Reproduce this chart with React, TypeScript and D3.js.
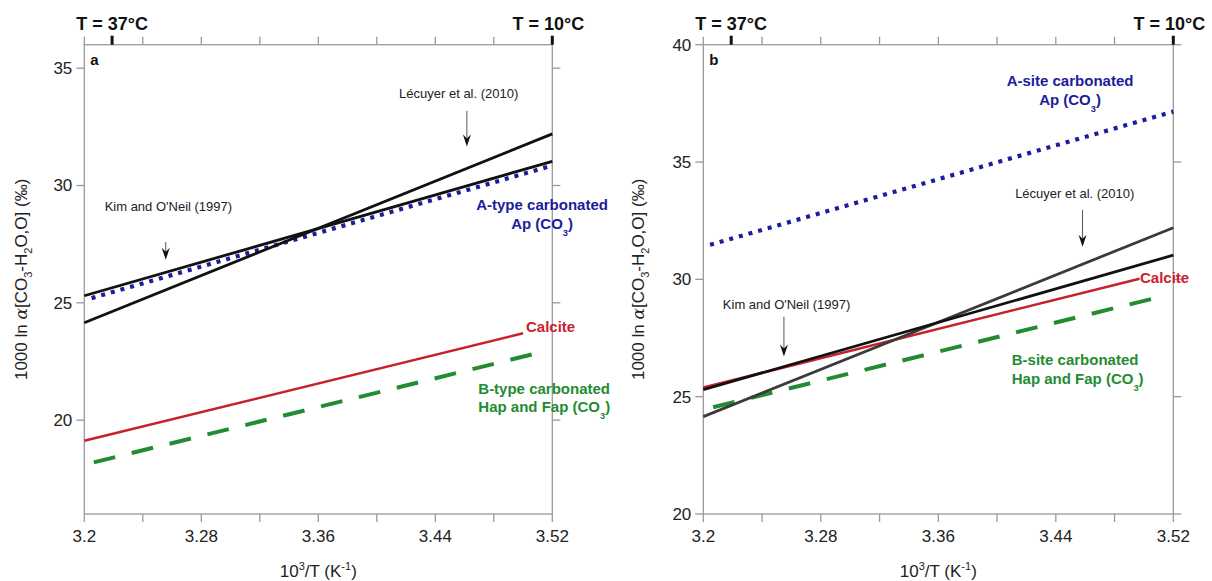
import React from "react";
import * as d3 from "d3";

// ---------- data ----------
const xMajorTicks = [3.2, 3.28, 3.36, 3.44, 3.52];
const xMinorTicks = [3.2, 3.24, 3.28, 3.32, 3.36, 3.4, 3.44, 3.48, 3.52];
const tempLabels = ["T = 37°C", "T = 10°C"];
const tempPositions = [3.219, 3.52];

const yTicksA = [20, 25, 30, 35];
const yDomainA = [16, 36];
const yTicksB = [20, 25, 30, 35, 40];
const yDomainB = [20, 40];

// lines [x = 10^3/T, y = 1000 ln alpha]
const lecuyer: [number, number][] = [[3.2, 24.15], [3.52, 32.2]];
const kimOneil: [number, number][] = [[3.2, 25.3], [3.52, 31.03]];
const aTypeA: [number, number][] = [[3.205, 25.2], [3.52, 30.85]];
const calciteA: [number, number][] = [[3.2, 19.12], [3.5, 23.7]];
const bTypeA: [number, number][] = [[3.2065, 18.2], [3.514, 22.92]];
const aSiteB: [number, number][] = [[3.2046, 31.47], [3.52, 37.15]];
const calciteB: [number, number][] = [[3.2, 25.39], [3.497, 30.03]];
const bSiteB: [number, number][] = [[3.2067, 24.55], [3.51, 29.24]];

const FONT = "'Liberation Sans', Arial, Helvetica, sans-serif";
const BLUE = "#1c1c9c";
const RED = "#c8202c";
const GREEN = "#238c32";
const AXIS = "#9a9a9a";

type Ann = {
  lecText: [number, number];
  lecArrow: [number, number, number];
  kimText: [number, number];
  kimArrow: [number, number, number];
  blueText: [number, number, number];
  blueLines: string[];
  calcite: [number, number];
  greenText: [number, number, number];
  greenLines: string[];
};

function Sub({ children }: { children: string }) {
  return null as any;
}

function Arrow({ x, y1, y2, color }: { x: number; y1: number; y2: number; color: string }) {
  return (
    <g>
      <line x1={x} x2={x} y1={y1} y2={y2 - 4} stroke="#555" strokeWidth={1} />
      <path
        d={`M${x},${y2} L${x - 4},${y2 - 12} L${x},${y2 - 8} L${x + 4},${y2 - 12} Z`}
        fill={color}
      />
    </g>
  );
}

function withCO3(line: string, fontSize: number) {
  // render "(CO3)" with subscript 3
  const idx = line.indexOf("(CO3)");
  if (idx < 0) return line;
  return (
    <>
      {line.slice(0, idx)}(CO
      <tspan dy={7} fontSize={fontSize * 0.62}>3</tspan>
      <tspan dy={-7}>)</tspan>
    </>
  );
}

function Panel(props: {
  left: number;
  right: number;
  top: number;
  bottom: number;
  yDomain: number[];
  yTicks: number[];
  letter: string;
  blue: [number, number][];
  calcite: [number, number][];
  green: [number, number][];
  lecColor: string;
  ann: Ann;
  ylabelX: number;
  blueAnchor: string;
}) {
  const { left, right, top, bottom, yDomain, yTicks, letter, ann } = props;
  const x = d3.scaleLinear().domain([3.2, 3.52]).range([left, right]);
  const y = d3.scaleLinear().domain(yDomain).range([bottom, top]);
  const line = d3
    .line<[number, number]>()
    .x((d) => x(d[0]))
    .y((d) => y(d[1]));
  const midX = (left + right) / 2;
  const midY = (top + bottom) / 2;
  return (
    <g fontFamily={FONT}>
      {/* frame */}
      <rect x={left} y={top} width={right - left} height={bottom - top} fill="none" stroke={AXIS} strokeWidth={1.3} />
      {/* y ticks left & right */}
      {yTicks.map((t) => (
        <g key={"yt" + t}>
          <line x1={left - 8} x2={left} y1={y(t)} y2={y(t)} stroke={AXIS} strokeWidth={1.3} />
          <line x1={right} x2={right + 8} y1={y(t)} y2={y(t)} stroke={AXIS} strokeWidth={1.3} />
          <text x={left - 12} y={y(t) + 6} textAnchor="end" fontSize={17} fill="#222">
            {t}
          </text>
        </g>
      ))}
      {/* x ticks bottom & top */}
      {xMinorTicks.map((t) => (
        <g key={"xt" + t}>
          <line x1={x(t)} x2={x(t)} y1={bottom} y2={bottom + 8} stroke={AXIS} strokeWidth={1.3} />
          <line x1={x(t)} x2={x(t)} y1={top - 8} y2={top} stroke={AXIS} strokeWidth={1.3} />
        </g>
      ))}
      {xMajorTicks.map((t) => (
        <text key={"xl" + t} x={x(t)} y={bottom + 28} textAnchor="middle" fontSize={17} fill="#222">
          {d3.format("")(t)}
        </text>
      ))}
      {/* temperature marks */}
      {tempPositions.map((t, i) => (
        <g key={"T" + i}>
          <line x1={x(t)} x2={x(t)} y1={top - 9} y2={top} stroke="#111" strokeWidth={3} />
          <text x={x(t) - (i === 1 ? 4 : 0)} y={30} textAnchor="middle" fontSize={18} fontWeight="bold" fill="#111">
            {tempLabels[i]}
          </text>
        </g>
      ))}
      {/* axis titles */}
      <text x={midX} y={bottom + 63} textAnchor="middle" fontSize={17} fill="#222">
        10<tspan dy={-7} fontSize={11}>3</tspan>
        <tspan dy={7}>/T (K</tspan>
        <tspan dy={-7} fontSize={11}>-1</tspan>
        <tspan dy={7}>)</tspan>
      </text>
      <text
        transform={`translate(${props.ylabelX},${midY}) rotate(-90)`}
        textAnchor="middle"
        fontSize={17}
        fill="#222"
      >
        1000 ln <tspan fontFamily="'DejaVu Serif', serif" fontStyle="italic">α</tspan>[CO
        <tspan dy={5} fontSize={11}>3</tspan>
        <tspan dy={-5}>-H</tspan>
        <tspan dy={5} fontSize={11}>2</tspan>
        <tspan dy={-5}>O,O] (‰)</tspan>
      </text>
      {/* panel letter */}
      <text x={left + 6} y={top + 20} fontSize={15} fontWeight="bold" fill="#111">
        {letter}
      </text>
      {/* data lines */}
      <path d={line(props.calcite) || ""} stroke={RED} strokeWidth={2.6} fill="none" />
      <path d={line(props.green) || ""} stroke={GREEN} strokeWidth={4} fill="none" strokeDasharray="22 17" />
      <path d={line(props.blue) || ""} stroke={BLUE} strokeWidth={4.2} fill="none" strokeDasharray="4 6" />
      <path d={line(lecuyer) || ""} stroke={props.lecColor} strokeWidth={2.8} fill="none" />
      <path d={line(kimOneil) || ""} stroke="#111" strokeWidth={2.8} fill="none" />
      {/* annotations */}
      <text x={x(ann.lecText[0])} y={y(ann.lecText[1])} textAnchor="middle" fontSize={13} fill="#222">
        Lécuyer et al. (2010)
      </text>
      <Arrow x={x(ann.lecArrow[0])} y1={y(ann.lecArrow[1])} y2={y(ann.lecArrow[2])} color="#111" />
      <text x={x(ann.kimText[0])} y={y(ann.kimText[1])} textAnchor="middle" fontSize={13} fill="#222">
        Kim and O'Neil (1997)
      </text>
      <Arrow x={x(ann.kimArrow[0])} y1={y(ann.kimArrow[1])} y2={y(ann.kimArrow[2])} color="#111" />
      {ann.blueLines.map((s, i) => (
        <text
          key={"bl" + i}
          x={x(ann.blueText[0])}
          y={y(i === 0 ? ann.blueText[1] : ann.blueText[2])}
          textAnchor="middle"
          fontSize={15}
          fontWeight="bold"
          fill={BLUE}
        >
          {withCO3(s, 15)}
        </text>
      ))}
      <text x={x(ann.calcite[0])} y={y(ann.calcite[1])} fontSize={15} fontWeight="bold" fill={RED}>
        Calcite
      </text>
      {ann.greenLines.map((s, i) => (
        <text
          key={"gl" + i}
          x={x(ann.greenText[0])}
          y={y(i === 0 ? ann.greenText[1] : ann.greenText[2])}
          fontSize={15}
          fontWeight="bold"
          fill={GREEN}
        >
          {withCO3(s, 15)}
        </text>
      ))}
    </g>
  );
}

const annA: Ann = {
  lecText: [3.456, 33.71],
  lecArrow: [3.4616, 33.18, 31.66],
  kimText: [3.2575, 28.91],
  kimArrow: [3.2557, 27.59, 26.83],
  blueText: [3.513, 28.94, 28.13],
  blueLines: ["A-type carbonated", "Ap (CO3)"],
  calcite: [3.502, 23.74],
  greenText: [3.4694, 21.1, 20.33],
  greenLines: ["B-type carbonated", "Hap and Fap (CO3)"],
};

const annB: Ann = {
  lecText: [3.4529, 33.48],
  lecArrow: [3.4582, 32.96, 31.39],
  kimText: [3.2567, 28.72],
  kimArrow: [3.2549, 28.41, 26.71],
  blueText: [3.4497, 38.22, 37.41],
  blueLines: ["A-site carbonated", "Ap (CO3)"],
  calcite: [3.4973, 29.83],
  greenText: [3.41, 26.37, 25.56],
  greenLines: ["B-site carbonated", "Hap and Fap (CO3)"],
};

export default function App() {
  return (
    <svg
      width={1212}
      height={581}
      style={{ position: "absolute", left: 0, top: 0, background: "#fff" }}
    >
      <rect x={0} y={0} width={1212} height={581} fill="#fff" />
      <Panel
        left={84.3}
        right={552.3}
        top={44.7}
        bottom={514}
        yDomain={yDomainA}
        yTicks={yTicksA}
        letter="a"
        blue={aTypeA}
        calcite={calciteA}
        green={bTypeA}
        lecColor="#111"
        ann={annA}
        ylabelX={27}
        blueAnchor="middle"
      />
      <Panel
        left={703.3}
        right={1173.3}
        top={44.7}
        bottom={514}
        yDomain={yDomainB}
        yTicks={yTicksB}
        letter="b"
        blue={aSiteB}
        calcite={calciteB}
        green={bSiteB}
        lecColor="#3a3a3a"
        ann={annB}
        ylabelX={644}
        blueAnchor="middle"
      />
    </svg>
  );
}
